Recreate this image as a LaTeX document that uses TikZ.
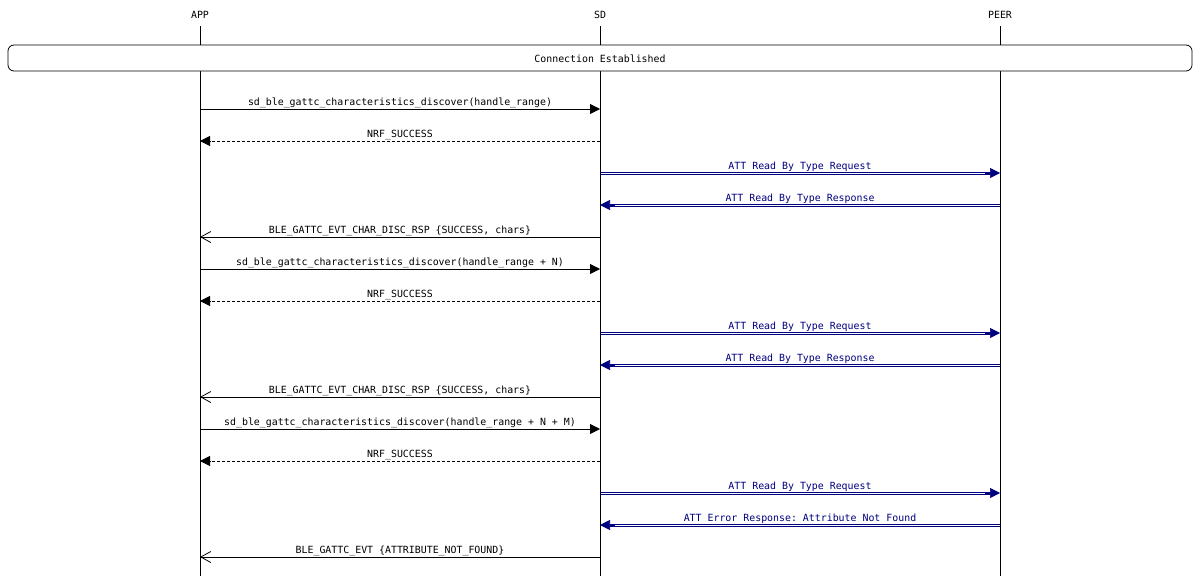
\documentclass[tikz,border=0pt]{standalone}
\usepackage{fontspec}
\setmonofont{DejaVu Sans Mono}
\usetikzlibrary{arrows.meta}
\definecolor{navyb}{RGB}{0,0,128}
\newcommand\dblmsg[4]{%
  \draw[dblline, transform canvas={yshift=1pt}] (#1 |- #3) -- (#2 |- #3);
  \draw[dblline, transform canvas={yshift=-1pt}] (#1 |- #3) -- (#2 |- #3);
  \draw[dbltip, shorten <=385pt] (#1 |- #3) -- (#2 |- #3);
  \path (#1 |- #3) -- (#2 |- #3) node[bluelbl, midway] {#4};}
\begin{document}
\begin{tikzpicture}[x=1pt,y=-1pt,
  every node/.style={font=\ttfamily\fontsize{9.9}{11}\selectfont, inner sep=0pt},
  head/.style={anchor=base},
  life/.style={draw=black, line width=0.8pt},
  lbl/.style={anchor=base, yshift=3.5pt},
  bluelbl/.style={anchor=base, yshift=3.5pt, text=navyb},
  call/.style={draw=black, line width=0.8pt, -{Triangle[length=10pt,width=10pt]}},
  reply/.style={draw=black, line width=0.8pt, dash pattern=on 3pt off 2pt, -{Triangle[length=10pt,width=10pt]}},
  evt/.style={draw=black, line width=0.8pt, -{Straight Barb[length=10pt,width=11pt]}},
  dbltip/.style={draw=navyb, line width=0.7pt, -{Triangle[length=10pt,width=10pt]}},
  dblline/.style={draw=navyb, line width=0.75pt, shorten >=9pt},
  boxstyle/.style={draw=black, line width=0.8pt, fill=white, rounded corners=6pt}
]
\useasboundingbox (0,0) rectangle (1200,576);
\fill[white] (0,0) rectangle (1200,576);
% lifeline heads
\node[head] (app) at (200,18) {APP};
\node[head] (sd) at (600,18) {SD};
\node[head] (peer) at (1000,18) {PEER};
\coordinate (top) at (0,26);
\coordinate (bot) at (0,576);
\draw[life] (app |- top) -- (app |- bot);
\draw[life] (sd |- top) -- (sd |- bot);
\draw[life] (peer |- top) -- (peer |- bot);
% connection box
\draw[boxstyle] (8,45) rectangle (1192,71);
\node (conn) at (600,59) {Connection Established};
% rows
\foreach \i/\y in {1/109,2/141,3/173,4/205,5/237,6/269,7/301,8/333,9/365,10/397,11/429,12/461,13/493,14/525,15/557}
  \coordinate (r\i) at (0,\y);
% messages
\draw[call] (app |- r1) -- (sd |- r1) node[lbl, midway] {sd\_ble\_gattc\_characteristics\_discover(handle\_range)};
\draw[reply] (sd |- r2) -- (app |- r2) node[lbl, midway] {NRF\_SUCCESS};
\dblmsg{sd}{peer}{r3}{ATT Read By Type Request}
\dblmsg{peer}{sd}{r4}{ATT Read By Type Response}
\draw[evt] (sd |- r5) -- (app |- r5) node[lbl, midway] {BLE\_GATTC\_EVT\_CHAR\_DISC\_RSP \{SUCCESS, chars\}};
\draw[call] (app |- r6) -- (sd |- r6) node[lbl, midway] {sd\_ble\_gattc\_characteristics\_discover(handle\_range + N)};
\draw[reply] (sd |- r7) -- (app |- r7) node[lbl, midway] {NRF\_SUCCESS};
\dblmsg{sd}{peer}{r8}{ATT Read By Type Request}
\dblmsg{peer}{sd}{r9}{ATT Read By Type Response}
\draw[evt] (sd |- r10) -- (app |- r10) node[lbl, midway] {BLE\_GATTC\_EVT\_CHAR\_DISC\_RSP \{SUCCESS, chars\}};
\draw[call] (app |- r11) -- (sd |- r11) node[lbl, midway] {sd\_ble\_gattc\_characteristics\_discover(handle\_range + N + M)};
\draw[reply] (sd |- r12) -- (app |- r12) node[lbl, midway] {NRF\_SUCCESS};
\dblmsg{sd}{peer}{r13}{ATT Read By Type Request}
\dblmsg{peer}{sd}{r14}{ATT Error Response: Attribute Not Found}
\draw[evt] (sd |- r15) -- (app |- r15) node[lbl, midway] {BLE\_GATTC\_EVT \{ATTRIBUTE\_NOT\_FOUND\}};
\end{tikzpicture}
\end{document}
